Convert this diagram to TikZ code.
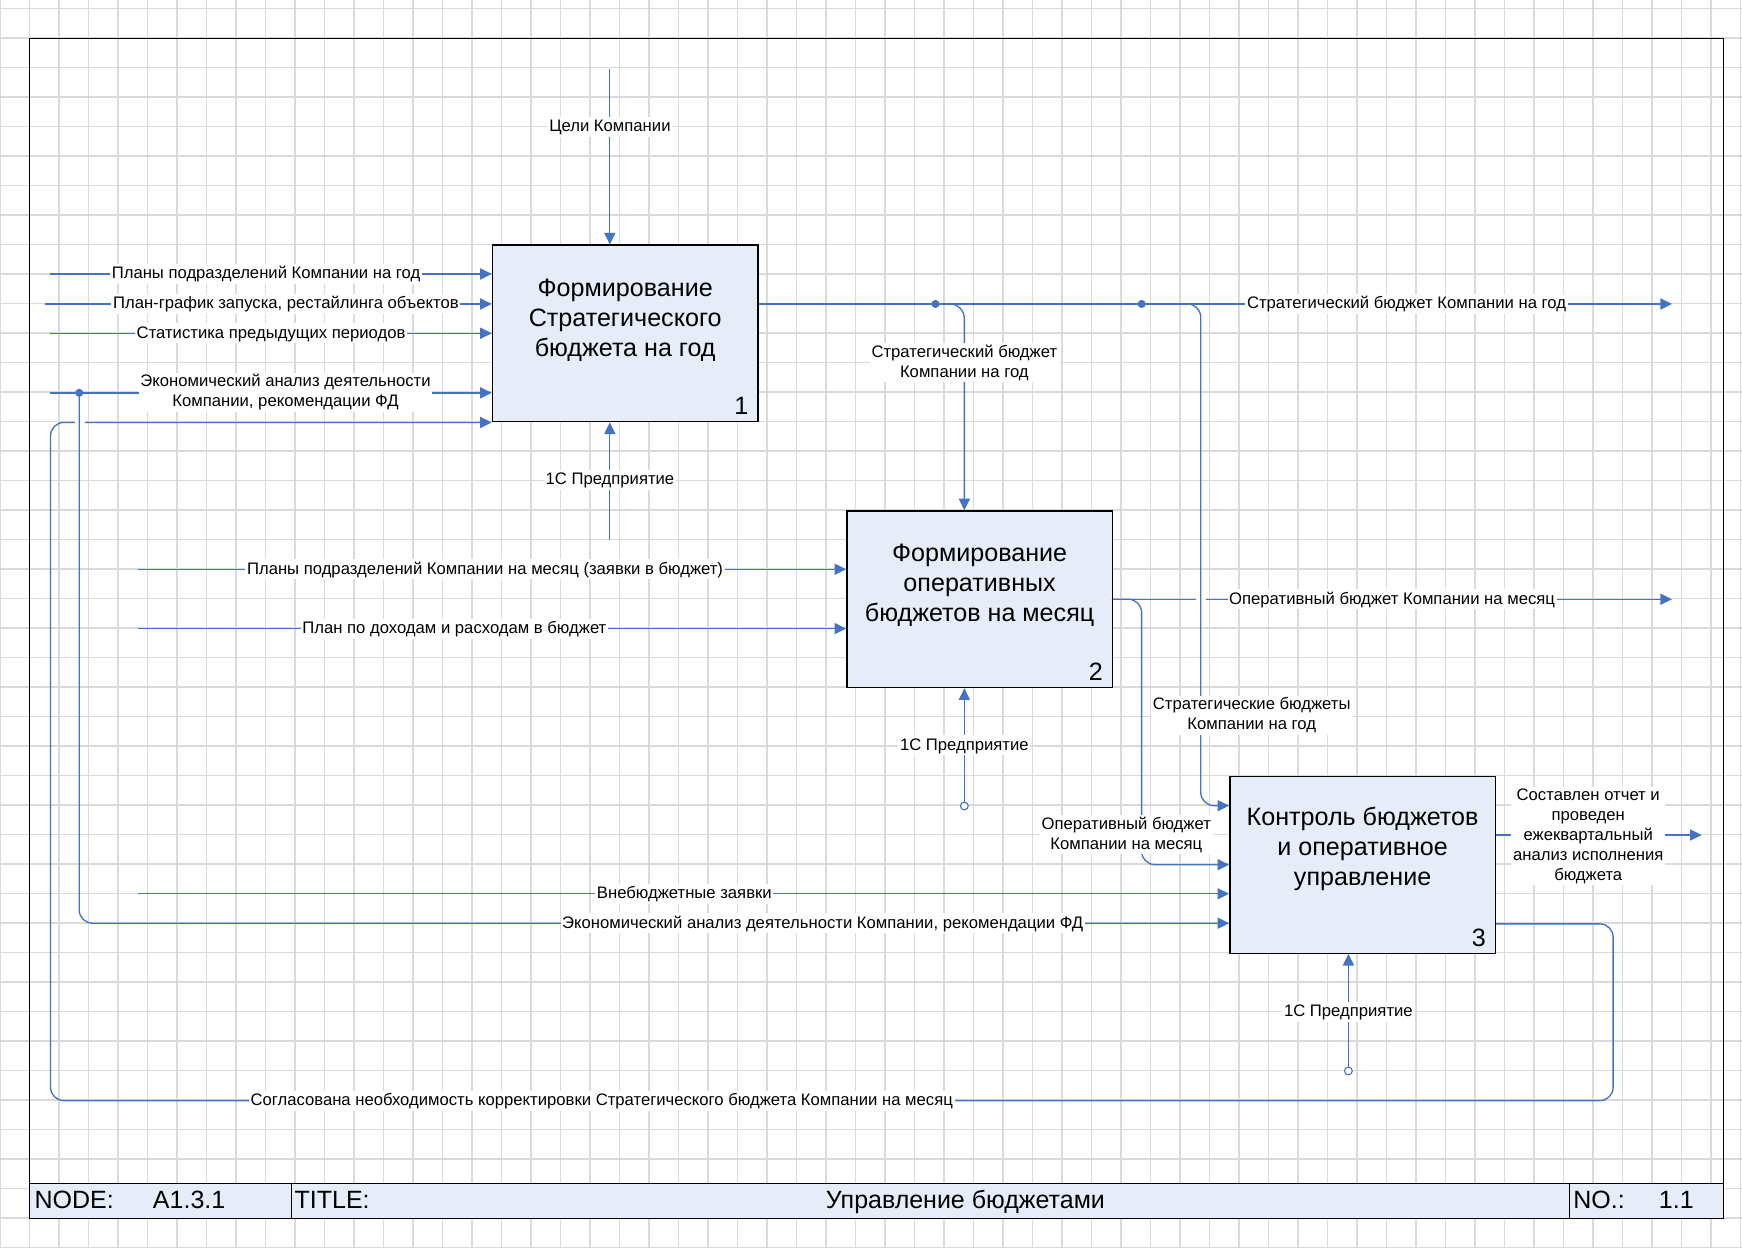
\documentclass[tikz,border=0pt]{standalone}
\usepackage{fontspec}
\setmainfont{Liberation Sans}
\usetikzlibrary{arrows.meta}
\definecolor{flowblue}{RGB}{68,114,196}
\definecolor{boxfill}{RGB}{231,237,248}
\definecolor{gridgray}{RGB}{218,218,218}
\begin{document}
\begin{tikzpicture}[x=1pt,y=-1pt,
  gridline/.style={draw=gridgray, line width=1.3pt},
  lbl/.style={fill=white, inner sep=1.5pt, font=\fontsize{15}{18}\selectfont, align=center, text=black},
  lbl1/.style={lbl, text height=12pt, text depth=3pt},
  boxst/.style={draw=black, line width=1.2pt, fill=boxfill, minimum width=239pt, minimum height=159pt, inner sep=0pt},
  boxtxt/.style={font=\fontsize{22.6}{27}\selectfont, align=center, inner sep=0pt},
  numst/.style={font=\fontsize{22.6}{26}\selectfont, anchor=base east, inner sep=0pt},
  ttl/.style={font=\fontsize{22.5}{25}\selectfont, inner sep=0pt},
  flow/.style={draw=flowblue, line width=1.2pt, -{Triangle[length=10.5pt,width=10pt]}},
  gapst/.style={draw=white, line width=3pt},
  dotst/.style={circle, fill=flowblue, inner sep=0pt, minimum size=7pt},
  tunnel/.style={circle, draw=flowblue, fill=white, line width=1pt, inner sep=0pt, minimum size=7pt}]
\useasboundingbox (0,0) rectangle (1568,1123);
\fill[white] (0,0) rectangle (1568,1123);
% grid
\foreach \i in {0,...,59} \draw[gridline] (\i*26.55,0) -- (\i*26.55,1123);
\foreach \j in {0,...,42} \draw[gridline] (0,7.8+\j*26.55) -- (1568,7.8+\j*26.55);
% frame
\draw[line width=0.9pt] (26.5,34.5) rectangle (1551,1097);
\draw[line width=1pt, fill=boxfill] (26.5,1065) rectangle (1551,1097);
\draw[line width=1pt] (262,1065) -- (262,1097);
\draw[line width=1pt] (1412.5,1065) -- (1412.5,1097);
\node[ttl, anchor=base west] (tnode) at (31,1087.5) {NODE:};
\node[ttl, anchor=base west] (tnum) at (137.5,1087.5) {A1.3.1};
\node[ttl, anchor=base west] (ttitle) at (265,1087.5) {TITLE:};
\node[ttl, anchor=base] (tname) at (869,1087.5) {Управление бюджетами};
\node[ttl, anchor=base west] (tno) at (1416,1087.5) {NO.:};
\node[ttl, anchor=base west] (tnov) at (1493,1087.5) {1.1};
% boxes
\node[boxst] (b1) at (562.75,300.15) {};
\node[boxst] (b2) at (881.75,539.4) {};
\node[boxst] (b3) at (1226.5,778.5) {};
\node[boxtxt, yshift=12pt] (t1) at (b1.center) {Формирование\\Стратегического\\бюджета на год};
\node[boxtxt, yshift=13pt] (t2) at (b2.center) {Формирование\\оперативных\\бюджетов на месяц};
\node[boxtxt, yshift=14pt] (t3) at (b3.center) {Контроль бюджетов\\и оперативное\\управление};
\node[numst] (n1) at ([xshift=-9pt,yshift=7pt]b1.south east) {1};
\node[numst] (n2) at ([xshift=-9pt,yshift=7pt]b2.south east) {2};
\node[numst] (n3) at ([xshift=-9pt,yshift=7pt]b3.south east) {3};
% coordinates
\coordinate (i1) at (45,246.6);
\coordinate (i2) at (40.7,273.6);
\coordinate (i3) at (45,300);
\coordinate (i4) at (45,353.6);
\coordinate (c1) at (548.9,62);
\coordinate (m1) at (548.9,486);
\coordinate (o1) at (1505,273.6);
\coordinate (x1) at (868,0);
\coordinate (x2) at (1080.8,725.2);
\coordinate (o2) at (1505,539.4);
\coordinate (x3) at (1027.6,778.3);
\coordinate (i6) at (124,512.4);
\coordinate (i7) at (124,565.8);
\coordinate (i5) at (124,804.5);
\coordinate (y6) at (0,831);
\coordinate (o3) at (1531.8,751.6);
\coordinate (f1) at (1452,831.6);
\coordinate (f2) at (45.5,990.7);
\node[dotst] (d1) at (842,273.6) {};
\node[dotst] (d2) at (1027.6,273.6) {};
\node[dotst] (d3) at (71.3,353.6) {};
\node[tunnel] (m2) at (868,725.5) {};
\node[tunnel] (m3) at (1213.7,964) {};
% box 1 arrows
\draw[flow] (i1) -- (i1 -| b1.west);
\draw[flow] (i2) -- (i2 -| b1.west);
\draw[flow] (i3) -- (i3 -| b1.west);
\draw[flow] (i4) -- (i4 -| b1.west);
\draw[flow] (c1) -- (c1 |- b1.north);
\draw[flow] (m1) -- (m1 |- b1.south);
\draw[flow] (o1 -| b1.east) -- (o1);
\draw[flow, rounded corners=13pt] (d1.center) -| (x1 |- b2.north);
% box 2 arrows
\draw[flow] (i6) -- (i6 -| b2.west);
\draw[flow] (i7) -- (i7 -| b2.west);
\draw[flow] (b2.east) -- (o2);
\draw[gapst] (1076.3,539.4) -- (1085.3,539.4);
\draw[flow, rounded corners=12pt] (d2.center) -| (x2) -- (x2 -| b3.west);
\draw[flow, rounded corners=12pt] (b2.east) -| (x3) -- (x3 -| b3.west);
\draw[flow] (m2) -- (m2 |- b2.south);
% box 3 arrows
\draw[flow] (i5) -- (i5 -| b3.west);
\draw[flow] (o3 -| b3.east) -- (o3);
\draw[flow] (m3) -- (m3 |- b3.south);
\draw[flow, rounded corners=12pt] (f1 -| b3.east) -- (f1) |- (f2) |- (b1.south west);
\draw[gapst] (67.3,379.8) -- (76.3,379.8);
\draw[flow, rounded corners=12pt] (d3.center) |- (y6 -| b3.west);
\node[dotst] at (d1) {};
\node[dotst] at (d2) {};
\node[dotst] at (d3) {};
% labels
\node[lbl1] (L1) at (239.5,246.6) {Планы подразделений Компании на год};
\node[lbl1] (L2) at (257.3,273.6) {План-график запуска, рестайлинга объектов};
\node[lbl1] (L3) at (244,300) {Статистика предыдущих периодов};
\node[lbl] (L4) at (257,353.3) {Экономический анализ деятельности\\Компании, рекомендации ФД};
\node[lbl1] (L5) at (549,114) {Цели Компании};
\node[lbl1] (L6) at (549,432) {1С Предприятие};
\node[lbl1] (L7) at (1266,273.6) {Стратегический бюджет Компании на год};
\node[lbl] (L8) at (868,326.4) {Стратегический бюджет\\Компании на год};
\node[lbl1] (L9) at (436.6,512.4) {Планы подразделений Компании на месяц (заявки в бюджет)};
\node[lbl1] (L10) at (409,565.8) {План по доходам и расходам в бюджет};
\node[lbl1] (L11) at (1253,539.4) {Оперативный бюджет Компании на месяц};
\node[lbl] (L12) at (1126.7,644) {Стратегические бюджеты\\Компании на год};
\node[lbl1] (L13) at (868,671) {1С Предприятие};
\node[lbl] (L14) at (1013.8,751.5) {Оперативный бюджет\\Компании на месяц};
\node[lbl] (L15) at (1429.6,752.4) {Составлен отчет и\\проведен\\ежеквартальный\\анализ исполнения\\бюджета};
\node[lbl1] (L16) at (616,804.5) {Внебюджетные заявки};
\node[lbl1] (L17) at (740.5,831) {Экономический анализ деятельности Компании, рекомендации ФД};
\node[lbl1] (L18) at (1213.7,910.6) {1С Предприятие};
\node[lbl1] (L19) at (541.6,990.7) {Согласована необходимость корректировки Стратегического бюджета Компании на месяц};
\end{tikzpicture}
\end{document}
